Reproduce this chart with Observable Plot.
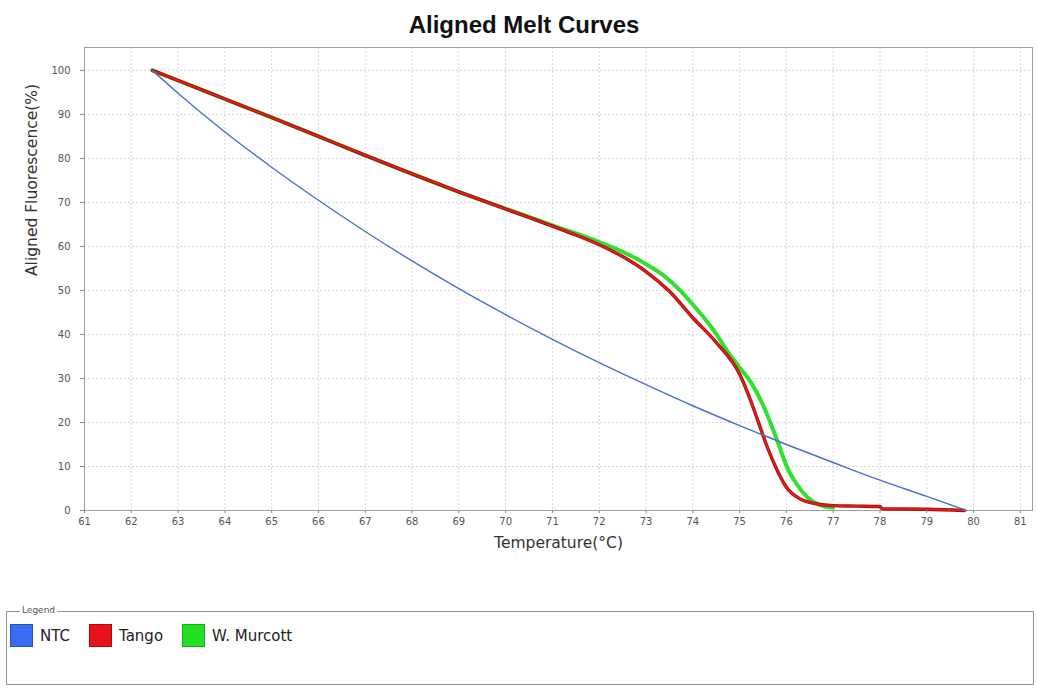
<!DOCTYPE html>
<html>
<head>
<meta charset="utf-8">
<script src="https://cdn.jsdelivr.net/npm/d3@7"></script>
<script src="https://cdn.jsdelivr.net/npm/@observablehq/plot@0.6"></script>
<style>
  html, body { margin: 0; padding: 0; background: #fff; }
  #wrap { position: relative; width: 1037px; height: 692px; overflow: hidden; font-family: "DejaVu Sans", sans-serif; }
  #title { position: absolute; top: 13px; left: 524px; transform: translateX(-50%); font-family: "Liberation Sans", Arial, sans-serif; font-weight: bold; font-size: 24px; line-height: 24px; color: #111; white-space: nowrap; }
  #chart { position: absolute; top: 0; left: 0; }
  #legendBox { position: absolute; left: 6px; top: 611px; width: 1028px; height: 74px; border: 1px solid #8a95a5; box-sizing: border-box; }
  #legendLabel { position: absolute; left: 20px; top: 605px; font-size: 9px; line-height: 11px; color: #555; background: #fff; padding: 0 2px; }
  #legendItems { position: absolute; left: 10px; top: 624px; display: flex; align-items: center; }
  .item { display: flex; align-items: center; margin-right: 19px; }
  .sw { width: 23px; height: 23px; box-sizing: border-box; margin-right: 7px; }
  .lab { font-size: 15px; color: #222; }
</style>
</head>
<body>
<div id="wrap">
  <div id="title"></div>
  <div id="chart"></div>
  <div id="legendBox"></div>
  <div id="legendLabel">Legend</div>
  <div id="legendItems"></div>
</div>
<script>
const titleText = "Aligned Melt Curves";
const xLabel = "Temperature(°C)";
const yLabel = "Aligned Fluorescence(%)";
const xTicks = [61,62,63,64,65,66,67,68,69,70,71,72,73,74,75,76,77,78,79,80,81];
const yTicks = [0,10,20,30,40,50,60,70,80,90,100];

const seriesNames = ["NTC", "Tango", "W. Murcott"];
const swatchColors = ["#3a6cf2", "#e8121a", "#22e022"];
const swatchBorders = ["#2a4fb0", "#a8090f", "#18a818"];

const ntcT = [62.45, 63, 64, 65, 66, 67, 68, 69, 70, 71, 72, 73, 74, 75, 76, 77, 78, 79, 79.85];
const ntcF = [100, 94.8, 86.0, 78.0, 70.5, 63.4, 56.7, 50.4, 44.5, 38.9, 33.6, 28.6, 23.8, 19.3, 15.0, 10.9, 6.9, 3.2, 0];

const tangoT = [62.45, 63, 64, 65, 66, 67, 68, 69, 70, 70.6, 71, 71.5, 72, 72.5, 73, 73.5, 74, 74.5, 75, 75.25, 75.45, 75.6, 75.8, 76, 76.3, 76.65, 77, 77.5, 78, 78.05, 79, 79.8];
const tangoF = [100, 97.7, 93.5, 89.3, 85.0, 80.7, 76.5, 72.4, 68.5, 66.2, 64.6, 62.6, 60.4, 57.7, 54.3, 49.8, 43.8, 38.2, 31.0, 24.6, 18.6, 14.2, 9.2, 5.3, 2.6, 1.5, 1.1, 1.0, 0.9, 0.4, 0.3, 0];

const murcottT = [62.45, 63, 64, 65, 66, 67, 68, 69, 70, 71, 72, 72.5, 73, 73.4, 73.75, 74, 74.45, 74.8, 75, 75.25, 75.5, 75.7, 75.87, 76, 76.2, 76.45, 76.7, 77];
const murcottF = [100, 97.7, 93.5, 89.3, 85.0, 80.7, 76.5, 72.4, 68.6, 64.8, 61.0, 58.8, 56.0, 53.2, 49.8, 46.8, 40.9, 35.3, 32.5, 29.0, 24.0, 18.8, 14.0, 10.2, 6.3, 3.0, 1.3, 0.6];

const toRows = (T, F, s) => T.map((t, i) => ({temp: t, fl: F[i], series: s}));
const ntc = toRows(ntcT, ntcF, seriesNames[0]);
const tango = toRows(tangoT, tangoF, seriesNames[1]);
const murcott = toRows(murcottT, murcottF, seriesNames[2]);

document.getElementById("title").textContent = titleText;

const chart = Plot.plot({
  width: 1037,
  height: 565,
  marginLeft: 84,
  marginRight: 5,
  marginTop: 47,
  marginBottom: 55,
  style: {fontFamily: "DejaVu Sans, sans-serif", fontSize: "10px", color: "#444", background: "transparent", overflow: "visible"},
  x: {domain: [61, 81.26]},
  y: {domain: [0, 105.2]},
  marks: [
    Plot.gridX(xTicks, {stroke: "#d6d6d6", strokeOpacity: 1, strokeDasharray: "2,2"}),
    Plot.gridY(yTicks, {stroke: "#d6d6d6", strokeOpacity: 1, strokeDasharray: "2,2"}),
    Plot.frame({stroke: "#a0a0a0"}),
    Plot.line(murcott, {x: "temp", y: "fl", stroke: "#2fe02f", strokeWidth: 4, curve: "monotone-x"}),
    Plot.line(tango, {x: "temp", y: "fl", stroke: "#a50c0c", strokeWidth: 3.4, curve: "monotone-x"}),
    Plot.line(tango, {x: "temp", y: "fl", stroke: "#ec1c1c", strokeWidth: 1.6, curve: "monotone-x"}),
    Plot.line(ntc, {x: "temp", y: "fl", stroke: "#4a6fd0", strokeWidth: 1.4, curve: "monotone-x"}),
    Plot.axisX(xTicks, {tickSize: 3, tickPadding: 4, stroke: "#888", fill: "#555", tickFormat: d => String(d), label: null}),
    Plot.axisY(yTicks, {tickSize: 4, tickPadding: 10, stroke: "#888", fill: "#555", tickFormat: d => String(d), label: null}),
    Plot.text([xLabel], {frameAnchor: "bottom", dy: 37, fontSize: 15.5, fill: "#333"}),
    Plot.text([yLabel], {frameAnchor: "left", dx: -52, dy: -3, rotate: -90, fontSize: 15.5, fill: "#333"})
  ]
});
document.getElementById("chart").appendChild(chart);

const items = document.getElementById("legendItems");
seriesNames.forEach((name, i) => {
  const it = document.createElement("div");
  it.className = "item";
  const sw = document.createElement("div");
  sw.className = "sw";
  sw.style.background = swatchColors[i];
  sw.style.border = "1px solid " + swatchBorders[i];
  const lab = document.createElement("span");
  lab.className = "lab";
  lab.textContent = name;
  it.appendChild(sw);
  it.appendChild(lab);
  items.appendChild(it);
});
</script>
</body>
</html>
